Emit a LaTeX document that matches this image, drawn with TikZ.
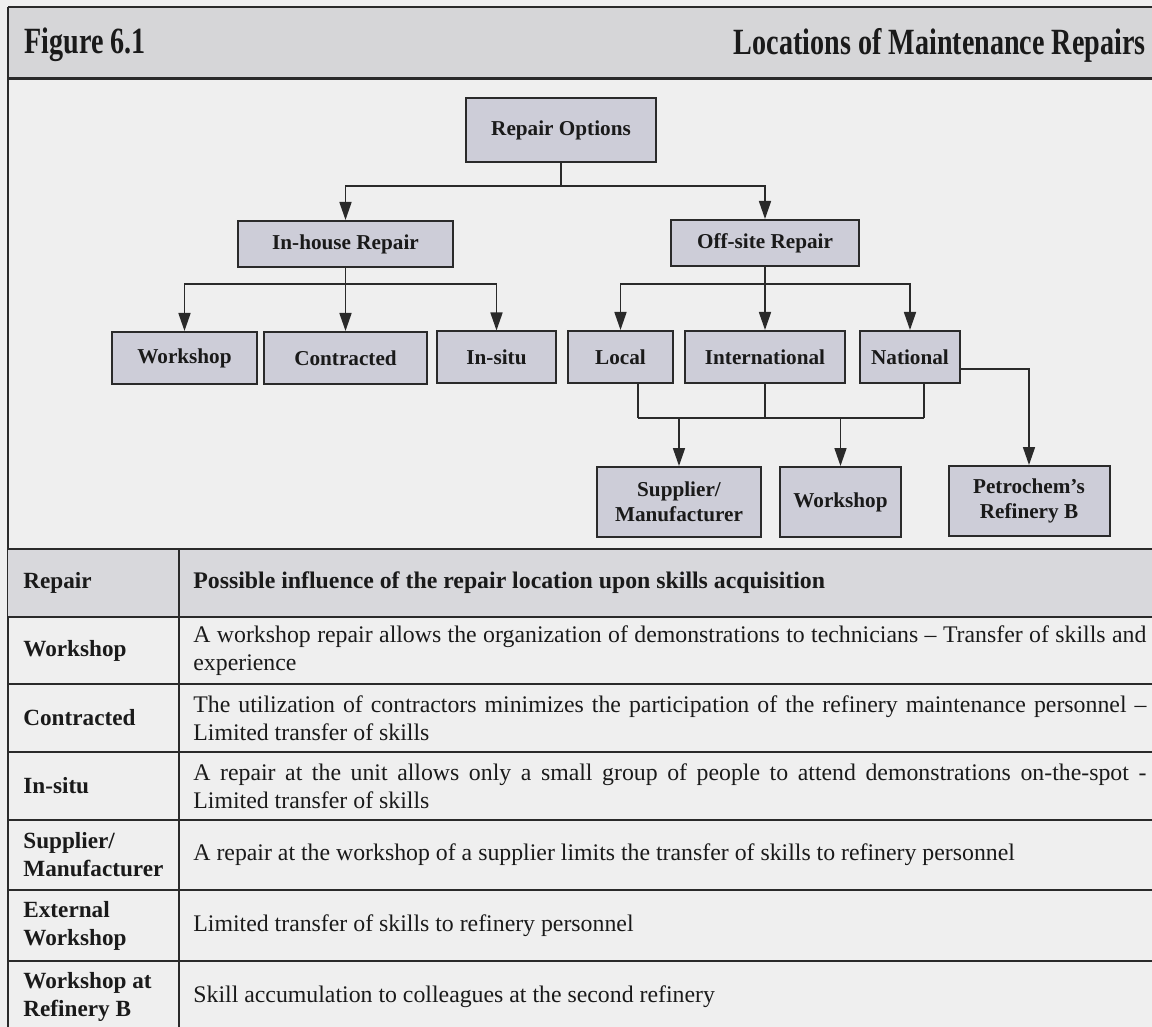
\documentclass[tikz,border=0pt]{standalone}
\usepackage{fontspec}
\setmainfont{Liberation Serif}
\newfontfamily\titlefont[FakeStretch=0.76]{Liberation Serif Bold}
\usetikzlibrary{arrows.meta}

\definecolor{pagebg}{HTML}{EFEFEF}
\definecolor{bandfill}{HTML}{D6D6D8}
\definecolor{boxfill}{HTML}{CDCDD8}
\definecolor{headfill}{HTML}{D8D8DC}
\definecolor{linec}{HTML}{2A2A2A}
\definecolor{txt}{HTML}{1A1A1A}

\begin{document}
% one unit = one pixel of a 1152 x 1027 page, y grows downwards
\begin{tikzpicture}[x=0.5pt,y=-0.5pt,
  box/.style={draw=linec, line width=1pt, fill=boxfill, inner sep=0pt,
    align=center, text=txt, font=\fontsize{10.6}{12.5}\selectfont\bfseries},
  link/.style={draw=linec, line width=0.85pt},
  arr/.style={link, -{Triangle[length=9pt,width=6pt]}},
  rule/.style={draw=linec, line width=0.8pt},
  frame/.style={draw=linec, line width=1pt},
  lab/.style={anchor=west, inner sep=0pt, align=left, text=txt,
    font=\fontsize{11.6}{14}\selectfont\bfseries},
  body/.style={anchor=west, inner sep=0pt, align=left, text=txt,
    font=\fontsize{11.9}{14}\selectfont},
  title/.style={inner sep=0pt, text=txt, font=\titlefont\fontsize{18.5}{20}\selectfont}]

\useasboundingbox (0,0) rectangle (1152,1027);
\fill[pagebg] (0,0) rectangle (1152,1027);

% title band
\fill[bandfill] (8,7) rectangle (1152,79);
\draw[frame] (8,7) -- (1152,7);
\draw[draw=linec, line width=1.5pt] (8,79) -- (1152,79);
\draw[frame] (8,7) -- (8,1027);
\node[title, anchor=west] (fig) at (24,45) {Figure 6.1};
\node[title, anchor=east] (ttl) at (1146,45) {Locations of Maintenance Repairs};

% tree of repair options
\node[box, minimum width=95pt,   minimum height=32pt] (ro) at (561,130)   {Repair Options};
\node[box, minimum width=107.5pt, minimum height=23pt] (ih) at (345.5,244) {In-house Repair};
\node[box, minimum width=94pt,   minimum height=23pt] (os) at (765,243)   {Off-site Repair};

\node[box, minimum width=72.5pt, minimum height=26pt] (ws) at (184.5,358) {Workshop};
\node[box, minimum width=81.5pt, minimum height=26pt] (ct) at (345.5,358) {Contracted};
\node[box, minimum width=59.5pt, minimum height=26pt] (is) at (496.5,357.5) {In-situ};
\node[box, minimum width=52.5pt, minimum height=26pt] (lo) at (620.5,357) {Local};
\node[box, minimum width=80pt,   minimum height=26pt] (in) at (765,357)   {International};
\node[box, minimum width=50pt,   minimum height=26pt] (na) at (910,357)   {National};

\node[box, minimum width=82pt,   minimum height=35pt] (su) at (679,502)   {Supplier/\\Manufacturer};
\node[box, minimum width=60.5pt, minimum height=35pt] (wk) at (840.5,502) {Workshop};
\node[box, minimum width=80.5pt, minimum height=35pt] (pr) at (1029,501)  {Petrochem's\\Refinery B};

% first split
\coordinate (j0) at (561,186);
\draw[link] (ro.south) -- (j0);
\draw[arr] (j0) -| (ih.north);
\draw[arr] (j0) -| (os.north);

% in-house branches
\coordinate (j1) at (345.5,284);
\draw[link] (ih.south) -- (j1);
\draw[arr] (j1) -| (ws.north);
\draw[arr] (j1) -- (ct.north);
\draw[arr] (j1) -| (is.north);

% off-site branches
\coordinate (j2) at (765,284);
\draw[link] (os.south) -- (j2);
\draw[arr] (j2) -| (lo.north);
\draw[arr] (j2) -- (in.north);
\draw[arr] (j2) -| (na.north);

% common bus towards supplier and workshop
\coordinate (b1) at (638,418);
\coordinate (b3) at (924,418);
\coordinate (b2) at (679,418);
\coordinate (b4) at (840.5,418);
\draw[link] (lo.south -| b1) -- (b1);
\draw[link] (in.south) -- (in.south |- b1);
\draw[link] (na.south -| b3) -- (b3);
\draw[link] (b1) -- (b3);
\draw[arr] (b2) -- (su.north);
\draw[arr] (b4) -- (wk.north);

% national to the second refinery
\draw[arr] ([yshift=-6pt]na.east) -| (pr.north);

% table
\fill[headfill] (8,549) rectangle (1152,617);
\foreach \yy in {549,617,684,752,820,890,961}
  \draw[rule] (8,\yy) -- (1152,\yy);
\draw[rule] (179,549) -- (179,1027);

\node[lab] (th1) at (23,583) {Repair};
\node[lab, font=\fontsize{11.9}{14}\selectfont\bfseries] (th2) at (193,583) {Possible influence of the repair location upon skills acquisition};

\node[lab] (r1) at (23,650.5) {Workshop};
\node[body] (d1) at (193,650.5) {\makebox[476.5pt][s]{A workshop repair allows the organization of demonstrations to technicians – Transfer of skills and}\\experience};

\node[lab] (r2) at (23,718) {Contracted};
\node[body] (d2) at (193,718) {\makebox[476.5pt][s]{The utilization of contractors minimizes the participation of the refinery maintenance personnel –}\\Limited transfer of skills};

\node[lab] (r3) at (23,786) {In-situ};
\node[body] (d3) at (193,786) {\makebox[476.5pt][s]{A repair at the unit allows only a small group of people to attend demonstrations on-the-spot -}\\Limited transfer of skills};

\node[lab] (r4) at (23,855) {Supplier/\\Manufacturer};
\node[body] (d4) at (193,855) {A repair at the workshop of a supplier limits the transfer of skills to refinery personnel};

\node[lab] (r5) at (23,925.5) {External\\Workshop};
\node[body] (d5) at (193,925.5) {Limited transfer of skills to refinery personnel};

\node[lab] (r6) at (23,997) {Workshop at\\Refinery B};
\node[body] (d6) at (193,997) {Skill accumulation to colleagues at the second refinery};
\end{tikzpicture}
\end{document}
